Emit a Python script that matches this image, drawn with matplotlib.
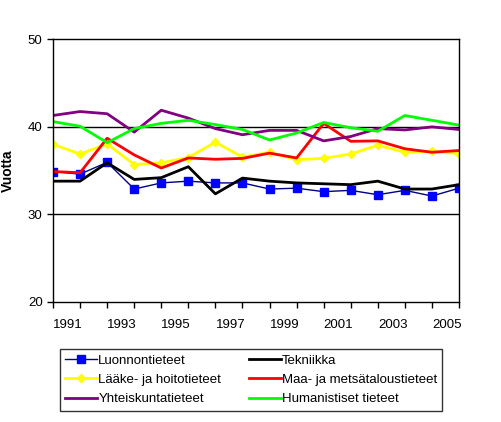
import matplotlib
matplotlib.use("Agg")
import matplotlib.pyplot as plt

plt.rcParams['font.family'] = ['Liberation Sans', 'DejaVu Sans']

# 16 annual points, x labels every second year
x = list(range(16))
tick_labels = ["1991", "1993", "1995", "1997", "1999", "2001", "2003", "2005"]

luonnon = [34.9, 34.6, 35.95, 32.9, 33.6, 33.8, 33.6, 33.6, 32.9, 33.0, 32.6, 32.75, 32.25, 32.75, 32.1, 33.0]
tekniikka = [33.8, 33.8, 35.9, 34.0, 34.2, 35.45, 32.35, 34.15, 33.8, 33.6, 33.5, 33.4, 33.8, 32.9, 32.9, 33.4]
laake = [38.0, 36.9, 38.05, 35.7, 35.9, 36.5, 38.25, 36.55, 37.1, 36.25, 36.4, 36.9, 37.9, 37.1, 37.2, 36.95]
maa = [34.9, 34.76, 38.7, 36.8, 35.3, 36.45, 36.3, 36.4, 37.0, 36.45, 40.4, 38.35, 38.4, 37.5, 37.1, 37.3]
yhteis = [41.3, 41.75, 41.5, 39.4, 41.9, 41.0, 39.8, 39.1, 39.6, 39.6, 38.4, 38.9, 39.8, 39.65, 40.0, 39.7]
human = [40.6, 40.07, 38.2, 39.8, 40.4, 40.75, 40.26, 39.7, 38.5, 39.3, 40.5, 39.9, 39.5, 41.3, 40.75, 40.2]

fig = plt.figure(figsize=(5.02, 4.22), dpi=100)
ax = fig.add_axes([53/502, 1-302/422, (459-53)/502, (302-39.3)/422])

l1, = ax.plot(x, luonnon, color="#000080", lw=1, marker="s", ms=5.5,
              mfc="#0000ff", mec="#0000ff", label="Luonnontieteet")
l2, = ax.plot(x, tekniikka, color="black", lw=2, label="Tekniikka")
l3, = ax.plot(x, laake, color="#ffff00", lw=2, marker="D", ms=4,
              mfc="#ffff00", mec="#ffff00", label="Lääke- ja hoitotieteet")
l4, = ax.plot(x, maa, color="#ff0000", lw=2, label="Maa- ja metsätaloustieteet")
l5, = ax.plot(x, yhteis, color="#800080", lw=2, label="Yhteiskuntatieteet")
l6, = ax.plot(x, human, color="#00ff00", lw=2, label="Humanistiset tieteet")

ax.set_xlim(0, 15)
ax.set_ylim(20, 50)
ax.set_yticks([20, 30, 40, 50])
ax.tick_params(axis="y", labelsize=9.5, length=4, width=1)
ax.set_xticks(x)
ax.set_xticklabels([])
ax.tick_params(axis="x", which="major", length=4, width=1)
ax.set_xticks([0.55 + 2*i for i in range(8)], minor=True)
ax.set_xticklabels(tick_labels, minor=True)
ax.tick_params(axis="x", which="minor", length=0, labelsize=9.5, pad=12)
for y in [30, 40]:
    ax.axhline(y, color="black", lw=1, zorder=0)
for s in ax.spines.values():
    s.set_linewidth(1)
ax.set_ylabel("Vuotta", fontsize=10, fontweight="bold")
ax.yaxis.set_label_coords(-38/406, 0.5)

# legend is filled column by column, so order handles to give the reference rows
leg = fig.legend(handles=[l1, l3, l5, l2, l4, l6], ncol=2, loc="upper left",
                 bbox_to_anchor=(60/502, 1-349/422), borderaxespad=0,
                 fontsize=9.5, frameon=True,
                 fancybox=False, edgecolor="black", borderpad=0.4,
                 handlelength=2.4, handletextpad=0.1, labelspacing=0.55,
                 columnspacing=2.1)
leg.get_frame().set_linewidth(1)

fig.savefig("out.png", dpi=100)
